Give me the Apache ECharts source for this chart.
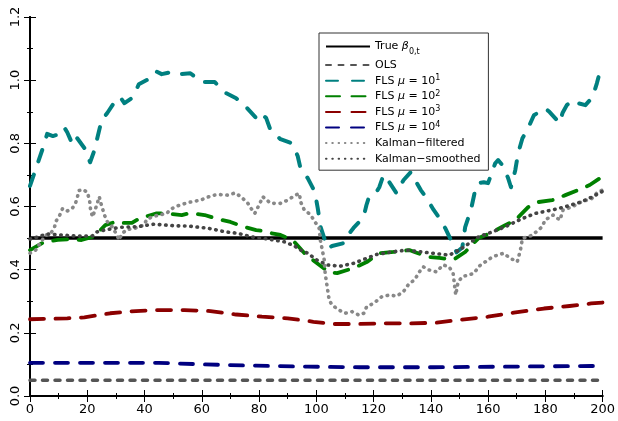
<!DOCTYPE html>
<html>
<head>
<meta charset="utf-8">
<script src="https://cdn.jsdelivr.net/npm/echarts@6/dist/echarts.min.js"></script>
<style>html,body{margin:0;padding:0;background:#fff}#c{width:618px;height:421px}</style>
</head>
<body>
<div id="c"></div>
<script>
// ---- data (t, value) ----
var trueBeta = [[0,0.5],[200,0.5]];
var ols = [[0,0.05],[200,0.05]];
var fls1 = [[0,0.665],[3,0.745],[4.5,0.785],[6,0.83],[8,0.823],[10.5,0.83],[12,0.85],[13,0.835],[15,0.794],[16.5,0.816],[19,0.785],[21,0.74],[22.5,0.778],[23.5,0.816],[25,0.873],[27,0.896],[30,0.937],[31.5,0.946],[33,0.927],[36,0.946],[38,0.987],[42,1.006],[44,1.028],[46,1.019],[49,1.025],[52,1.019],[56,1.022],[60,0.994],[64.5,0.994],[68.5,0.959],[72,0.943],[75.5,0.915],[79,0.88],[80.5,0.896],[82.5,0.88],[84,0.842],[87.5,0.813],[91.5,0.80],[93.5,0.76],[94.5,0.72],[97,0.69],[99.5,0.646],[100.5,0.595],[101.5,0.535],[103,0.494],[104,0.468],[105.5,0.475],[109.5,0.484],[110.5,0.503],[113,0.532],[116.5,0.566],[117.5,0.604],[118.5,0.633],[121,0.646],[122,0.661],[123.5,0.70],[125,0.684],[128,0.642],[129,0.661],[130.5,0.684],[133,0.709],[134.5,0.684],[136.5,0.652],[138.5,0.627],[141,0.589],[143,0.563],[145,0.532],[147,0.494],[149,0.455],[151,0.47],[152,0.535],[154,0.589],[155.5,0.652],[156.5,0.674],[158.5,0.677],[160,0.674],[162.5,0.737],[163.5,0.747],[165,0.731],[167,0.69],[168,0.661],[169.5,0.715],[170.5,0.769],[172,0.816],[174,0.848],[176,0.889],[179,0.905],[180,0.911],[181.5,0.899],[185,0.864],[186,0.896],[187.5,0.921],[190,0.937],[191.5,0.927],[194,0.921],[196.5,0.946],[198,0.99],[199,1.025],[200,1.035]];
var fls2 = [[0,0.462],[5,0.488],[9.7,0.494],[13,0.496],[18,0.494],[22,0.504],[24,0.52],[26.3,0.541],[30,0.552],[31,0.548],[35.6,0.548],[38.4,0.563],[40,0.567],[44,0.578],[47,0.578],[53,0.573],[56,0.579],[61,0.573],[65.7,0.56],[70,0.551],[75,0.535],[79,0.525],[82,0.522],[84,0.516],[87.5,0.51],[91.7,0.494],[95.8,0.453],[99.7,0.424],[104.5,0.392],[107.3,0.389],[113,0.405],[117.6,0.424],[122,0.452],[127,0.456],[132.5,0.462],[134.3,0.456],[139.4,0.44],[143,0.437],[148,0.432],[152,0.456],[156.7,0.5],[161.6,0.519],[166,0.541],[169.6,0.557],[174,0.598],[177.5,0.614],[182.4,0.62],[187,0.636],[191.4,0.652],[195.5,0.668],[200,0.695]];
var fls3 = [[0,0.243],[13,0.246],[19,0.249],[28,0.262],[37,0.269],[45,0.272],[54,0.272],[63,0.269],[72,0.258],[81,0.251],[90,0.246],[99,0.235],[106,0.228],[115,0.228],[124,0.23],[133,0.23],[142,0.232],[150,0.241],[160,0.251],[169,0.264],[179.5,0.277],[188.5,0.285],[196,0.293],[200,0.296]];
var fls4 = [[0,0.105],[20,0.105],[45,0.105],[61,0.1],[79,0.096],[97,0.093],[115,0.091],[141,0.091],[167,0.093],[196,0.095],[200,0.095]];
var kalmanFiltered = [[0,0.452],[2,0.462],[3.8,0.488],[5.5,0.509],[7.3,0.515],[8.6,0.536],[9,0.552],[10.4,0.573],[11.4,0.594],[13.1,0.586],[14.9,0.596],[15.9,0.61],[16.6,0.631],[17,0.65],[18.3,0.654],[20,0.646],[20.8,0.62],[21.1,0.594],[21.8,0.567],[22.5,0.583],[23.5,0.61],[24.2,0.631],[24.6,0.615],[25.3,0.594],[26,0.573],[27,0.552],[28.7,0.536],[30.4,0.509],[31.1,0.494],[32.2,0.515],[33.9,0.527],[36.3,0.53],[39.8,0.541],[40.8,0.559],[42.6,0.567],[45,0.573],[47.8,0.578],[49,0.591],[51.2,0.601],[55.4,0.613],[59.5,0.62],[63.3,0.634],[65.7,0.638],[69.2,0.636],[71.6,0.643],[73.7,0.631],[76.1,0.61],[77.2,0.594],[78.5,0.578],[80.3,0.61],[81.3,0.631],[84.1,0.61],[87.5,0.61],[90,0.62],[92.7,0.636],[94.1,0.641],[94.5,0.615],[95.8,0.589],[97.9,0.575],[99.5,0.552],[101,0.531],[101.4,0.494],[102.1,0.462],[102.8,0.43],[103.1,0.388],[103.8,0.346],[104.5,0.304],[105.5,0.288],[108,0.272],[110,0.262],[112.5,0.267],[114.9,0.256],[116.6,0.262],[117.6,0.283],[120,0.293],[122.8,0.314],[125.6,0.32],[128,0.316],[130.4,0.33],[132.5,0.357],[134.3,0.367],[136,0.393],[137.4,0.409],[139.4,0.399],[141.9,0.393],[144.3,0.415],[146.4,0.409],[147.8,0.388],[148.3,0.35],[148.7,0.32],[149.5,0.36],[151,0.378],[155,0.388],[157,0.412],[161.6,0.441],[165.4,0.452],[167.8,0.436],[170.2,0.425],[171.3,0.462],[172,0.499],[175.4,0.509],[178.9,0.536],[179.9,0.557],[182.7,0.573],[185.1,0.557],[186.2,0.589],[189.3,0.599],[192.7,0.615],[196.2,0.625],[198.3,0.646],[200,0.652]];
var kalmanSmoothed = [[0,0.497],[1,0.499],[6,0.513],[10.7,0.51],[16.6,0.506],[21.8,0.507],[23.5,0.52],[27,0.527],[31.5,0.534],[37.4,0.536],[43.3,0.544],[47.8,0.541],[50.5,0.539],[55.4,0.538],[62.3,0.531],[68,0.52],[72.7,0.515],[77.2,0.504],[83,0.497],[88.9,0.488],[92.4,0.475],[94.5,0.462],[97,0.452],[100.3,0.43],[103.8,0.415],[108.3,0.411],[113,0.42],[117.6,0.436],[121,0.448],[127,0.457],[131.5,0.462],[136,0.457],[140.8,0.452],[146.4,0.446],[149.9,0.462],[153.3,0.483],[156.7,0.504],[161.6,0.52],[166,0.536],[172,0.562],[176.5,0.578],[182.4,0.589],[186.9,0.599],[192.7,0.615],[196.5,0.631],[200,0.648]];

var seriesNames = ['true','ols','fls1','fls2','fls3','fls4','kf','ks'];
var legendLabels = {
  'true': 'True {g|β}{sub|0,t}',
  'ols': 'OLS',
  'fls1': 'FLS {g|μ} = 10{sup|1}',
  'fls2': 'FLS {g|μ} = 10{sup|2}',
  'fls3': 'FLS {g|μ} = 10{sup|3}',
  'fls4': 'FLS {g|μ} = 10{sup|4}',
  'kf': 'Kalman−filtered',
  'ks': 'Kalman−smoothed'
};
var xTicks = {min:0, max:200, interval:20};
var yTicks = {min:0, max:1.2, interval:0.2};

var FONT = 'DejaVu Sans';
function mk(name, data, color, width, dash, cap) {
  return {
    name: name, type: 'line', data: data, symbol: 'none', animation: false,
    lineStyle: {color: color, width: width, type: dash, cap: cap || 'butt', join: 'round'},
    itemStyle: {color: color}
  };
}
var ch = echarts.init(document.getElementById('c'), null, {renderer: 'canvas'});
function axisCommon(show) {
  return {
    axisLine: {show: true, lineStyle: {color: '#000', width: 2}},
    axisTick: {show: true, inside: true, length: 6, lineStyle: {color: '#000', width: 1}},
    minorTick: {show: true, splitNumber: 2, length: 3, lineStyle: {color: '#000', width: 1}},
    splitLine: {show: false},
    axisLabel: {show: show}
  };
}
var xa = Object.assign({type: 'value', position: 'bottom'}, xTicks, axisCommon(true));
xa.axisLabel = {show: true, margin: 7, fontFamily: FONT, fontSize: 13, color: '#000'};
var xb = Object.assign({type: 'value', position: 'top'}, xTicks, axisCommon(false));
var ya = Object.assign({type: 'value', position: 'left'}, yTicks, axisCommon(true));
ya.axisLabel = {show: true, margin: 8, rotate: 90, fontFamily: FONT, fontSize: 13, color: '#000',
  formatter: function (v) { return v.toFixed(1); }};
var yb = Object.assign({type: 'value', position: 'right'}, yTicks, axisCommon(false));

ch.setOption({
  animation: false,
  backgroundColor: '#fff',
  grid: {left: 30, right: 10, top: 17, bottom: 25},
  xAxis: [xa, xb],
  yAxis: [ya, yb],
  legend: {
    data: seriesNames,
    orient: 'vertical', left: 319, top: 33,
    itemWidth: 44, itemHeight: 12, itemGap: 2.6,
    padding: [7, 8, 5, 6],
    borderColor: '#333', borderWidth: 1, backgroundColor: '#fff',
    selectedMode: false,
    itemStyle: {opacity: 0, borderWidth: 0},
    formatter: function (n) { return legendLabels[n]; },
    textStyle: {
      fontFamily: FONT, fontSize: 11, color: '#000', lineHeight: 13,
      rich: {
        g: {fontFamily: FONT, fontSize: 11, fontStyle: 'italic', lineHeight: 13},
        sub: {fontFamily: FONT, fontSize: 8, verticalAlign: 'bottom', lineHeight: 13, padding: [0, 0, -3, 0]},
        sup: {fontFamily: FONT, fontSize: 8, verticalAlign: 'top', lineHeight: 13, padding: [0, 0, 4, 0]}
      }
    }
  },
  series: [
    mk('true', trueBeta, '#000000', 3.5, 'solid'),
    mk('ols', ols, '#555555', 3.5, [5, 7.5], 'round'),
    mk('fls1', fls1, '#008080', 4, [12, 14], 'round'),
    mk('fls2', fls2, '#008000', 3.8, [14, 11.5], 'round'),
    mk('fls3', fls3, '#8b0000', 3.8, [14, 11.5], 'round'),
    mk('fls4', fls4, '#000080', 3.8, [13, 12], 'round'),
    mk('kf', kalmanFiltered, '#888888', 3.6, [0.5, 5.8], 'round'),
    mk('ks', kalmanSmoothed, '#444444', 3.6, [0.5, 5.8], 'round')
  ]
});
</script>
</body>
</html>
